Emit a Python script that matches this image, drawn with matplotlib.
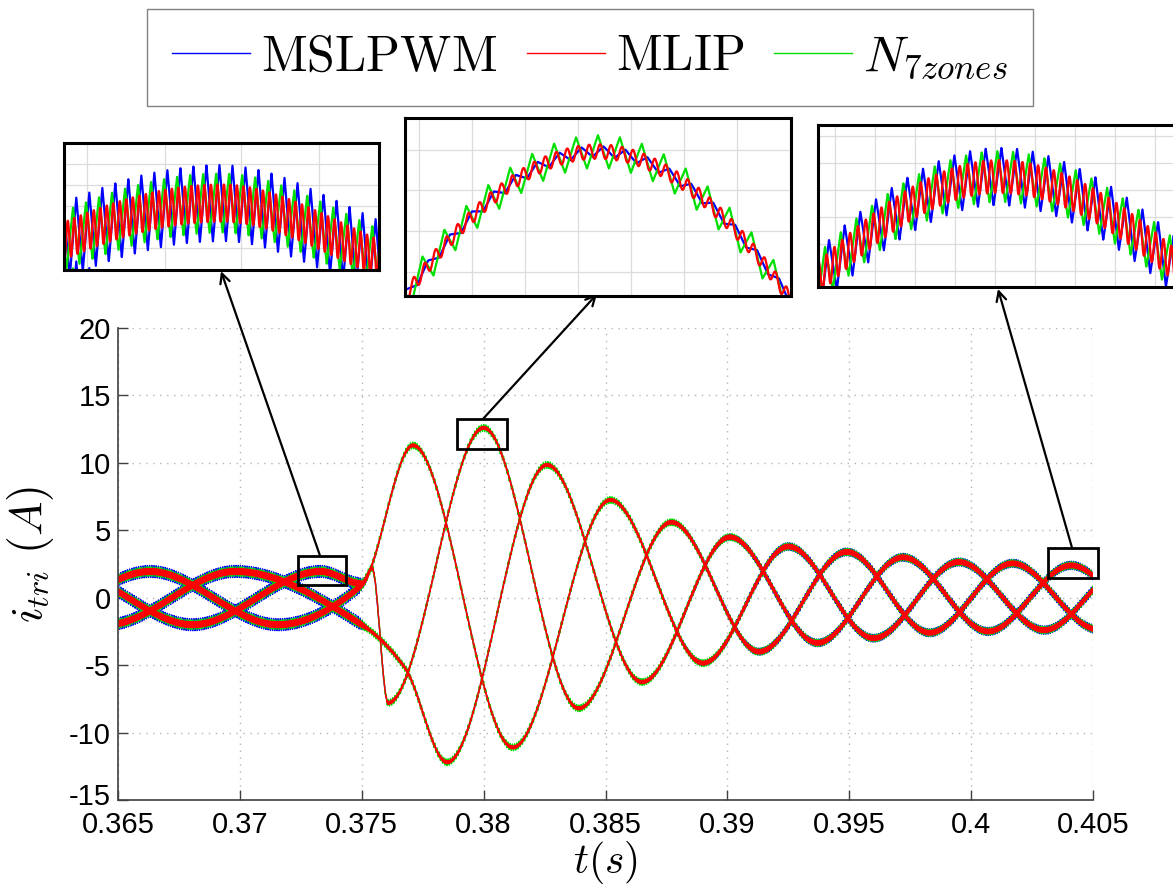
import numpy as np
import matplotlib.pyplot as plt
import matplotlib.transforms as mtransforms
from matplotlib.patches import Rectangle
from matplotlib.lines import Line2D

plt.rcParams['mathtext.fontset'] = 'cm'
plt.rcParams['font.family'] = ['Liberation Sans', 'DejaVu Sans']

# --- values ------------------------------------------------------------
# extrema (time, current) of the fundamental for each of the three phases
phase_a_t = [0.36456, 0.36981, 0.3750, 0.37677, 0.3785, 0.3826, 0.3865,
             0.3901, 0.3937, 0.3972, 0.4007, 0.4041, 0.4076]
phase_a_i = [-2.0, 1.95, -2.0, -5.2, -12.2, 9.85, -6.25, 4.5, -3.35, 3.0,
             -2.5, 2.4, -2.3]
phase_b_t = [0.36106, 0.36631, 0.37156, 0.3750, 0.3771, 0.3812, 0.3852,
             0.3890, 0.3925, 0.3960, 0.3995, 0.4030, 0.4064]
phase_b_i = [-2.0, 1.95, -2.0, 0.94, 11.3, -11.1, 7.25, -4.85, 3.8, -3.0,
             2.65, -2.4, 2.35]
phase_c_t = [0.36281, 0.36806, 0.37331, 0.3750, 0.37542, 0.37608, 0.3800,
             0.3839, 0.3877, 0.3913, 0.3949, 0.3983, 0.4017, 0.4052]
phase_c_i = [1.95, -2.0, 1.95, 1.04, 2.2, -7.8, 12.6, -8.2, 5.6, -4.0, 3.4,
             -2.6, 2.55, -2.35]

# switching ripple half amplitude of each method over time
ripple_t = [0.3640, 0.3749, 0.3753, 0.3850, 0.3920, 0.4070]
ripple_mslpwm = [0.45, 0.45, 0.08, 0.08, 0.28, 0.32]
ripple_n7 = [0.35, 0.35, 0.25, 0.25, 0.26, 0.28]
ripple_mlip = [0.22, 0.22, 0.11, 0.11, 0.17, 0.18]
f_carrier = 11.0e3

methods = [r'$\mathrm{MSLPWM}$', r'$\mathrm{MLIP}$', r'$N_{7zones}$']
colors = ['#0000ff', '#ff0000', '#00e000']

xticks = [0.365, 0.37, 0.375, 0.38, 0.385, 0.39, 0.395, 0.4, 0.405]
xticklabels = ['0.365', '0.37', '0.375', '0.38', '0.385', '0.39', '0.395',
               '0.4', '0.405']
yticks = [-15, -10, -5, 0, 5, 10, 15, 20]
yticklabels = ['-15', '-10', '-5', '0', '5', '10', '15', '20']


def pchip(xk, yk, x):
    xk = np.asarray(xk, float)
    yk = np.asarray(yk, float)
    h = np.diff(xk)
    d = np.diff(yk) / h
    m = np.zeros_like(yk)
    for k in range(1, len(xk) - 1):
        if d[k - 1] * d[k] > 0:
            w1 = 2 * h[k] + h[k - 1]
            w2 = h[k] + 2 * h[k - 1]
            m[k] = (w1 + w2) / (w1 / d[k - 1] + w2 / d[k])
    idx = np.clip(np.searchsorted(xk, x) - 1, 0, len(xk) - 2)
    s = (x - xk[idx]) / h[idx]
    h00 = 2 * s**3 - 3 * s**2 + 1
    h10 = s**3 - 2 * s**2 + s
    h01 = -2 * s**3 + 3 * s**2
    h11 = s**3 - s**2
    return (h00 * yk[idx] + h10 * h[idx] * m[idx] + h01 * yk[idx + 1]
            + h11 * h[idx] * m[idx + 1])


t = np.linspace(0.3645, 0.4065, 84001)
phases = [pchip(phase_a_t, phase_a_i, t),
          pchip(phase_b_t, phase_b_i, t),
          pchip(phase_c_t, phase_c_i, t)]


def tri(x):
    return 2 / np.pi * np.arcsin(np.sin(x))


w = 2 * np.pi * f_carrier * t
ripples = {
    'blue': np.interp(t, ripple_t, ripple_mslpwm) * tri(w),
    'green': np.interp(t, ripple_t, ripple_n7) * tri(w + 1.6),
    'red': np.interp(t, ripple_t, ripple_mlip) * np.sin(2 * w + 0.4),
}
order = [('blue', colors[0]), ('green', colors[2]), ('red', colors[1])]

fig = plt.figure(figsize=(11.73, 8.89), dpi=100)
ax = fig.add_axes([0.1006, 0.1001, 0.8312, 0.5309])

for key, col in order:
    for ph in phases:
        ax.plot(t, ph + ripples[key], color=col, lw=1.0)

ax.set_xlim(0.365, 0.405)
ax.set_ylim(-15, 20)
ax.set_xticks(xticks)
ax.set_xticklabels(xticklabels)
ax.set_yticks(yticks)
ax.set_yticklabels(yticklabels)
ax.grid(True, linestyle=(0, (1, 4)), color='#b4b4b4', lw=1.0)
for side in ['top', 'right']:
    ax.spines[side].set_visible(False)
for side in ['left', 'bottom']:
    ax.spines[side].set_color('#404040')
    ax.spines[side].set_linewidth(1.2)
ax.tick_params(direction='in', length=7, width=1, color='#404040',
               labelsize=21, pad=5)
ax.tick_params(axis='x', pad=8)
# lift the bottom y label a little so it clears the first x label
lab = ax.get_yticklabels()[0]
lab.set_transform(lab.get_transform()
                  + mtransforms.ScaledTranslation(0, 4 / 72, fig.dpi_scale_trans))
ax.set_xlabel(r'$t(s)$', fontsize=30, labelpad=0)
ax.set_ylabel(r'$i_{tri}\ (A)$', fontsize=33)
ax.yaxis.set_label_coords(-0.064, 0.52)

# zoom boxes on the main axes and insets
boxes = [(0.37238, 0.95, 0.00197, 2.15),
         (0.37891, 11.03, 0.00205, 2.22),
         (0.40315, 1.47, 0.00205, 2.23)]
inset_pos = [[0.0546, 0.6963, 0.2685, 0.1429],
             [0.3453, 0.6670, 0.3291, 0.2002],
             [0.6974, 0.6772, 0.3086, 0.1822]]
inset_xlim = [(0.37221, 0.37441), (0.37920, 0.38080), (0.40305, 0.40515)]
inset_ylim = [(1.16, 2.66), (10.4, 13.11), (1.2, 2.96)]
grid_x = [[0.072, 0.32, 0.563, 0.81],
          [0.035 + 0.1375 * k for k in range(8)],
          [0.046 + 0.1106 * k for k in range(9)]]
grid_y = [[0.165, 0.33, 0.495, 0.66, 0.825],
          [0.182, 0.406, 0.637, 0.865],
          [0.069 + 0.166 * k for k in range(6)]]
arrow_tail = [(0.37329, 3.1), (0.37997, 13.25), (0.40414, 3.7)]
arrow_head = [(0.1884, 0.6950), (0.5090, 0.6693), (0.8508, 0.6750)]

for k in range(3):
    x0, y0, bw, bh = boxes[k]
    ax.add_patch(Rectangle((x0, y0), bw, bh, fill=False, ec='black', lw=2.0,
                           clip_on=False, zorder=5))
    ax.annotate('', xy=arrow_head[k], xycoords='figure fraction',
                xytext=arrow_tail[k], textcoords='data',
                arrowprops=dict(arrowstyle='->,head_length=0.7,head_width=0.35',
                                color='black', lw=1.6, shrinkA=0, shrinkB=0),
                annotation_clip=False)

    axi = fig.add_axes(inset_pos[k])
    for key, col in order:
        for ph in phases:
            axi.plot(t, ph + ripples[key], color=col, lw=1.6)
    xa, xb = inset_xlim[k]
    ya, yb = inset_ylim[k]
    axi.set_xlim(xa, xb)
    axi.set_ylim(ya, yb)
    axi.set_xticks([xa + (xb - xa) * f for f in grid_x[k]])
    axi.set_yticks([yb - (yb - ya) * f for f in grid_y[k]])
    axi.set_xticklabels([])
    axi.set_yticklabels([])
    axi.tick_params(length=0)
    axi.grid(True, color='#dcdcdc', lw=0.9)
    for sp in axi.spines.values():
        sp.set_linewidth(2.2)
        sp.set_color('black')

handles = [Line2D([], [], color=c, lw=1.0) for c in colors]
fig.legend(handles, methods, loc='center', bbox_to_anchor=(0.503, 0.9353),
           ncol=3, fontsize=36, frameon=True, fancybox=False,
           edgecolor='#808080', framealpha=1, handlelength=1.56,
           handletextpad=0.22, columnspacing=0.6, borderpad=0.5)

fig.savefig('out.png', dpi=100)
